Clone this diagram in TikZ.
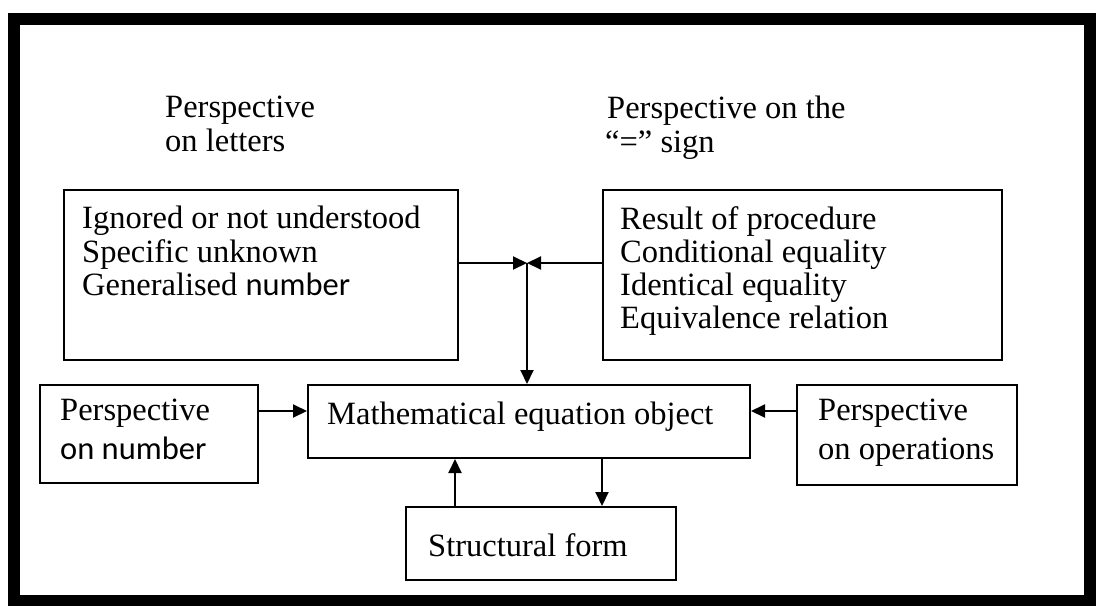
\documentclass[tikz,border=0pt]{standalone}
\usepackage{fontspec}
\setmainfont{Liberation Serif}
\newfontfamily\calib{Carlito}
\usetikzlibrary{arrows.meta}
\begin{document}
\begin{tikzpicture}[x=1pt,y=-1pt,
  box/.style={draw,line width=2pt,minimum width=#1,inner sep=0pt},
  txt/.style={anchor=west,align=left,inner sep=0pt,font=\fontsize{32.5}{33.3}\selectfont},
  conn/.style={line width=2pt,-{Triangle[length=14pt,width=13pt]}}]
\useasboundingbox (0,0) rectangle (1097,605);
\draw[line width=12pt] (14,18.5) rectangle (1090,601);
% boxes
\node[box=394pt,minimum height=170pt] (let) at (261,275) {};
\node[box=399pt,minimum height=170pt] (eq) at (802.5,275) {};
\node[box=218pt,minimum height=98pt] (num) at (149,434) {};
\node[box=442pt,minimum height=73pt] (main) at (529,421.5) {};
\node[box=220pt,minimum height=100pt] (ops) at (907,435) {};
\node[box=270pt,minimum height=73pt] (struct) at (541,543.5) {};
% texts
\node[txt,anchor=north west] (lett) at (82,206) {Ignored or not understood\\Specific unknown\\Generalised {\calib number}};
\node[txt,anchor=north west] (eqt) at (620,206) {Result of procedure\\Conditional equality\\Identical equality\\Equivalence relation};
\node[txt,anchor=north west,font=\fontsize{32.5}{38.5}\selectfont] (numt) at (60,399) {Perspective\\{\calib on number}};
\node[txt,anchor=north west,font=\fontsize{32.5}{38.5}\selectfont] (opst) at (818,399) {Perspective\\on operations};
\node[txt] (maint) at (327,417) {Mathematical equation object};
\node[txt] (structt) at (428,545) {Structural form};
\node[txt,anchor=north west] (labl) at (165,96) {Perspective\\on letters};
\node[txt,anchor=north west] (labe) at (607,96) {Perspective on the\\\hspace*{-2pt}“=” sign};
% connectors
\coordinate (j) at (527,263);
\draw[conn] (let.east |- j) -- (j);
\draw[conn] (eq.west |- j) -- (j);
\draw[conn] (j) -- (j |- main.north);
\draw[conn] (num.east |- 0,411) -- (main.west |- 0,411);
\draw[conn] (ops.west |- 0,411) -- (main.east |- 0,411);
\draw[conn] (struct.north -| 455,0) -- (main.south -| 455,0);
\draw[conn] (main.south -| 602,0) -- (struct.north -| 602,0);
\end{tikzpicture}
\end{document}
